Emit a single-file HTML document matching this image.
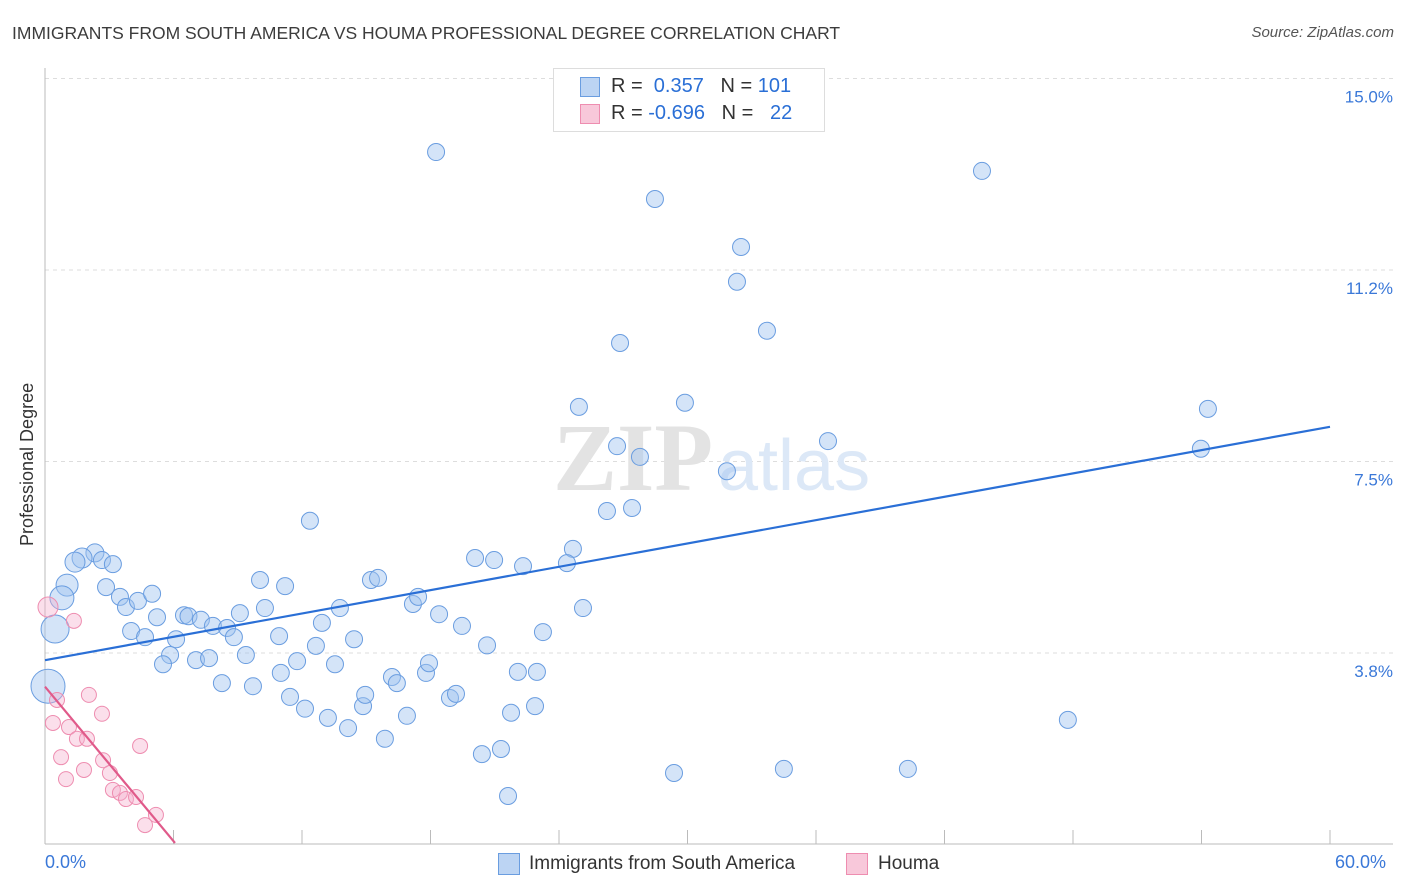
<!DOCTYPE html>
<html><head><meta charset="utf-8">
<style>
body{margin:0;background:#fff;font-family:"Liberation Sans",sans-serif;}
#wrap{position:relative;width:1406px;height:892px;overflow:hidden;}
.t{position:absolute;white-space:nowrap;}
</style></head>
<body>
<div id="wrap">
<div class="t" style="left:12px;top:23px;font-size:17.5px;color:#3c3c3c;">IMMIGRANTS FROM SOUTH AMERICA VS HOUMA PROFESSIONAL DEGREE CORRELATION CHART</div>
<div class="t" style="right:12px;top:24px;font-size:15px;color:#555;font-style:italic;">Source: ZipAtlas.com</div>
<svg id="svg" width="1406" height="892" style="position:absolute;left:0;top:0"></svg>
</div>
<script>
const xTicks=[0,6,12,18,24,30,36,42,48,54,60];
const yTicks=[3.75,7.5,11.25,15];
const yTickLabels=["3.8%","7.5%","11.2%","15.0%"];
const blueX=[18.26,28.48,43.75,32.5,32.31,33.71,26.85,24.93,29.88,54.3,36.56,26.71,27.78,31.84,53.97,26.24,27.41,12.37,24.65,24.37,20.08,20.97,22.32,2.33,1.73,2.66,3.17,1.40,1.03,0.79,0.47,0.14,2.85,3.5,3.78,4.34,5.0,4.02,4.67,5.23,6.49,6.7,7.28,7.84,8.5,8.82,9.1,6.12,5.84,5.51,7.05,7.66,9.38,8.26,9.71,10.04,11.21,10.27,10.93,11.77,11.01,11.44,12.14,12.65,12.93,13.77,13.54,13.21,14.15,14.43,14.85,14.95,15.22,15.55,15.87,16.2,16.43,16.9,17.18,17.42,17.79,17.93,18.4,18.91,19.19,19.47,20.64,20.4,21.29,21.62,21.76,22.08,22.97,22.88,23.25,25.12,29.37,34.5,40.29,47.76];
const blueY=[13.56,12.64,13.19,11.7,11.02,10.06,9.82,8.57,8.65,8.53,7.9,7.8,7.59,7.31,7.75,6.53,6.59,6.34,5.79,5.51,5.61,5.57,5.45,5.71,5.61,5.57,5.49,5.53,5.08,4.83,4.22,3.1,5.04,4.85,4.65,4.77,4.91,4.18,4.06,4.45,4.49,4.47,4.4,4.28,4.24,4.06,4.53,4.02,3.71,3.53,3.61,3.65,3.71,3.16,3.1,5.18,5.06,4.63,4.08,3.59,3.36,2.89,2.66,3.89,4.34,4.63,3.53,2.48,2.28,4.02,2.71,2.93,5.18,5.22,2.07,3.28,3.16,2.52,4.71,4.85,3.36,3.55,4.51,2.87,2.95,4.28,3.9,1.77,1.87,0.95,2.58,3.38,3.38,2.71,4.16,4.63,1.4,1.48,1.48,2.44];
const blueR=[8.5,8.5,8.5,8.5,8.5,8.5,8.5,8.5,8.5,8.5,8.5,8.5,8.5,8.5,8.5,8.5,8.5,8.5,8.5,8.5,8.5,8.5,8.5,9,10,8.5,8.5,10,11,12,14,17];
const pinkX=[0.14,1.35,0.56,0.37,2.05,2.66,1.12,1.49,1.96,0.75,1.82,0.98,2.71,3.03,4.44,3.17,3.5,3.78,4.25,5.18,4.67];
const pinkY=[4.65,4.38,2.83,2.38,2.93,2.56,2.3,2.07,2.07,1.71,1.46,1.28,1.65,1.4,1.93,1.07,1.01,0.89,0.93,0.58,0.38];
const pinkR=[10];
const blueTrend=[3.61,8.18];
const pinkTrend=[[0,3.09],[6.07,0.03]];
const X0=45,X1=1330,Y0=844.5,YPX=191.5/3.75;
const sx=v=>X0+(v/60)*(X1-X0);
const sy=v=>Y0-v*YPX;
const svg=document.getElementById('svg');
const NS='http://www.w3.org/2000/svg';
function mk(tag,attrs){const e=document.createElementNS(NS,tag);for(const k in attrs)e.setAttribute(k,attrs[k]);svg.appendChild(e);return e;}
yTicks.forEach((t,i)=>{
 const g=mk('line',{x1:X0,x2:1393,y1:sy(t),y2:sy(t),stroke:'#ddd','stroke-dasharray':'4,4'});
 
 
 const l=mk('text',{x:1393,y:sy(t)+24,'text-anchor':'end','font-size':17,fill:'#3a78d8','font-family':'Liberation Sans'});
 l.textContent=yTickLabels[i];
 
 
});
const ax=mk('line',{x1:X0,x2:1393,y1:844,y2:844,stroke:'#bbb'});


const ay=mk('line',{x1:X0,x2:X0,y1:68,y2:844,stroke:'#bbb'});


xTicks.forEach(t=>{
 const e=mk('line',{x1:sx(t),x2:sx(t),y1:830,y2:844,stroke:'#bbb'});
 
 
});
const w1=mk('text',{x:553,y:490,'font-size':96,fill:'#e3e3e3','font-family':'Liberation Serif','font-weight':'bold'});w1.textContent='ZIP';


const w2=mk('text',{x:718,y:490,'font-size':72,fill:'#dce8f7','font-family':'Liberation Sans'});w2.textContent='atlas';


blueX.forEach((x,i)=>{
 const c=mk('circle',{cx:sx(x),cy:sy(blueY[i]),r:blueR[i]||8.5,fill:'rgba(160,195,240,0.45)',stroke:'#6a9de0','stroke-width':1});
 
 
});
pinkX.forEach((x,i)=>{
 const c=mk('circle',{cx:sx(x),cy:sy(pinkY[i]),r:pinkR[i]||7.5,fill:'rgba(245,175,205,0.4)',stroke:'#ee8db0','stroke-width':1});
 
 
});
const bl=mk('line',{x1:sx(0),y1:sy(blueTrend[0]),x2:sx(60),y2:sy(blueTrend[1]),stroke:'#2a6fd6','stroke-width':2.2});


const pl=mk('line',{x1:sx(pinkTrend[0][0]),y1:sy(pinkTrend[0][1]),x2:sx(pinkTrend[1][0]),y2:sy(pinkTrend[1][1]),stroke:'#e05a8a','stroke-width':2.2});


</script>
<div class="t" style="left:45px;top:852px;font-size:18px;color:#3a78d8;">0.0%</div>
<div class="t" style="left:1335px;top:852px;font-size:18px;color:#3a78d8;">60.0%</div>
<div class="t" style="left:17px;top:546px;font-size:18px;color:#333;transform:rotate(-90deg);transform-origin:0 0;">Professional Degree</div>
<div style="position:absolute;left:553px;top:68px;width:270px;height:62px;border:1px solid #ddd;background:#fff;font-size:20px;">
 <div style="position:absolute;left:26px;top:8px;width:18px;height:18px;background:#bcd4f3;border:1px solid #6a9de0"></div>
 <div class="t" style="left:57px;top:6px;color:#333">R = <span style="color:#2a6fd6">&nbsp;0.357</span>&nbsp;&nbsp;&nbsp;N = <span style="color:#2a6fd6">101</span></div>
 <div style="position:absolute;left:26px;top:35px;width:18px;height:18px;background:#f8c8da;border:1px solid #ee8db0"></div>
 <div class="t" style="left:57px;top:33px;color:#333">R = <span style="color:#2a6fd6">-0.696</span>&nbsp;&nbsp;&nbsp;N = <span style="color:#2a6fd6">&nbsp;&nbsp;22</span></div>
</div>
<div style="position:absolute;left:498px;top:853px;width:20px;height:20px;background:#bcd4f3;border:1px solid #6a9de0"></div>
<div class="t" style="left:529px;top:853px;font-size:19px;color:#333">Immigrants from South America</div>
<div style="position:absolute;left:846px;top:853px;width:20px;height:20px;background:#f8c8da;border:1px solid #ee8db0"></div>
<div class="t" style="left:878px;top:853px;font-size:19px;color:#333">Houma</div>
</body></html>
